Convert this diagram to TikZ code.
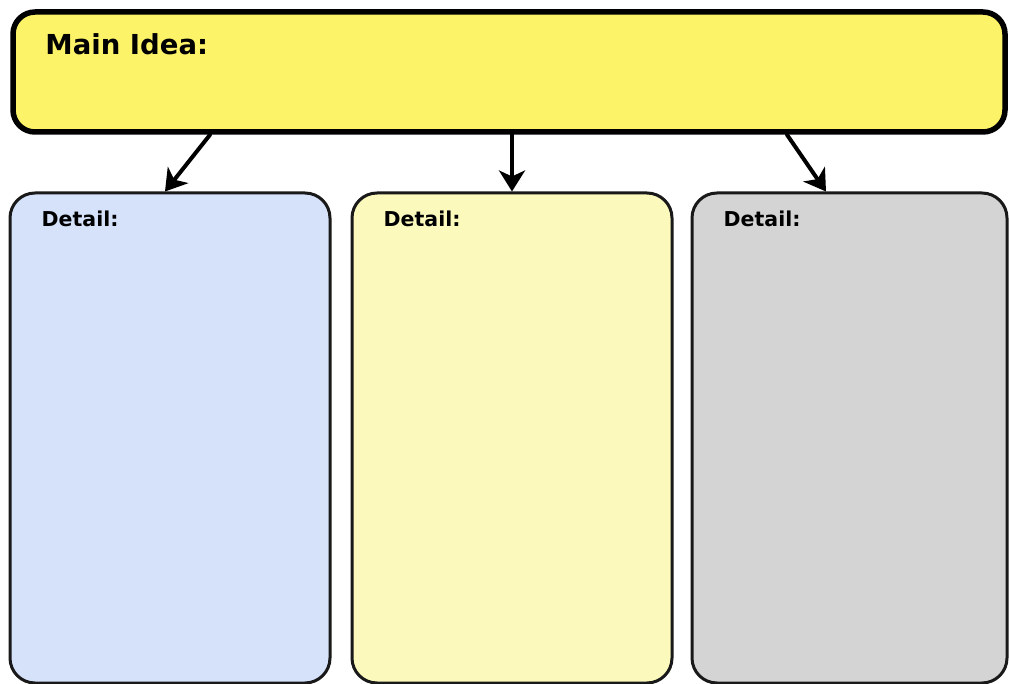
\documentclass[tikz,border=0pt]{standalone}
\usepackage{fontspec}
\setmainfont{DejaVu Sans}
\usetikzlibrary{arrows.meta,calc}
\definecolor{ideafill}{RGB}{252,243,104}
\definecolor{bluefill}{RGB}{213,226,250}
\definecolor{creamfill}{RGB}{251,249,187}
\definecolor{grayfill}{RGB}{212,212,212}

\begin{document}
\begin{tikzpicture}[x=1pt,y=-1pt,line cap=round,line join=round,
  ideabox/.style={draw=black,line width=5.5pt,fill=ideafill,rounded corners=22pt,
    minimum width=992pt,minimum height=120pt,inner sep=0pt},
  detailbox/.style={draw=black!90,line width=3pt,rounded corners=25pt,
    minimum width=320pt,minimum height=490pt,inner sep=0pt},
  heading/.style={anchor=base west,inner sep=0pt,font=\bfseries},
  link/.style={line width=4pt,-{Stealth[width=26pt,length=21pt,inset=6pt]}}]
  \useasboundingbox (0,0) rectangle (1009,684);
  \node[ideabox] (idea) at (509,72) {};
  \node[detailbox,fill=bluefill] (d1) at (170,438) {};
  \node[detailbox,fill=creamfill] (d2) at (512,438) {};
  \node[detailbox,fill=grayfill,minimum width=315pt] (d3) at (849.5,438) {};
  \node[heading,font=\bfseries\fontsize{27.5}{32}\selectfont] (ideatext)
    at ($(idea.north west)+(35,45.5)$) {Main Idea:};
  \node[heading,font=\bfseries\fontsize{20.5}{24}\selectfont] (t1)
    at ($(d1.north west)+(33,35)$) {Detail:};
  \node[heading,font=\bfseries\fontsize{20.5}{24}\selectfont] (t2)
    at ($(d2.north west)+(33,35)$) {Detail:};
  \node[heading,font=\bfseries\fontsize{20.5}{24}\selectfont] (t3)
    at ($(d3.north west)+(33,35)$) {Detail:};
  \draw[link] ([xshift=-299pt]idea.south) -- ([xshift=-5pt]d1.north);
  \draw[link] ([xshift=3pt]idea.south) -- (d2.north);
  \draw[link] ([xshift=278pt]idea.south) -- ([xshift=-23.5pt]d3.north);
\end{tikzpicture}
\end{document}
